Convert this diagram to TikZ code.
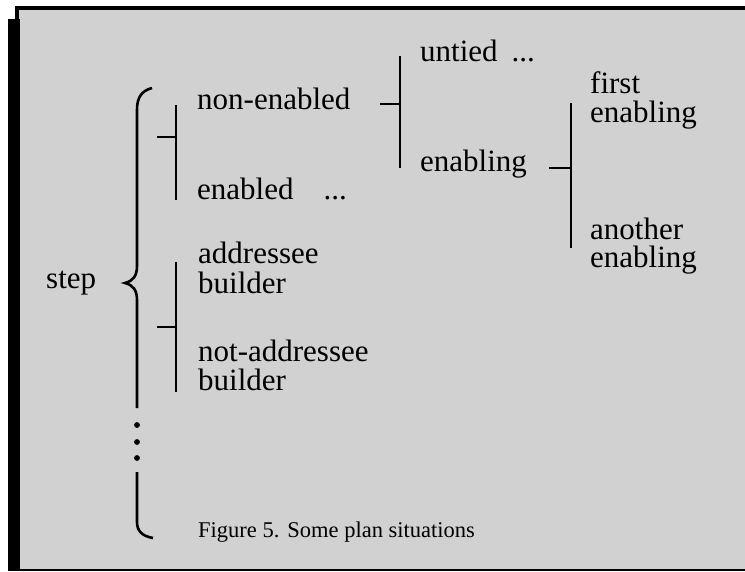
\documentclass[tikz,border=0pt]{standalone}
\usepackage{fontspec}
\setmainfont{Liberation Serif}
\begin{document}
\begin{tikzpicture}[x=1pt,y=-1pt,
  lbl/.style={anchor=base west,inner sep=0pt,font=\fontsize{31}{31}\selectfont},
  capt/.style={anchor=base west,inner sep=0pt,font=\fontsize{22.5}{22.5}\selectfont},
  br/.style={line width=2.6pt},
  halftone/.style={fill=black!18},
  ink/.style={fill=black}]
\useasboundingbox (0,0) rectangle (745,572);
\fill[white] (0,0) rectangle (745,572);
% frame
\fill[halftone] (17,9) rectangle (745,570);
\fill[ink] (15,6) rectangle (745,10);
\fill[ink] (8,19) rectangle (20,571);
\fill[ink] (15,6) rectangle (19,571);
\fill[ink] (17,568.5) rectangle (745,571);
% texts
\node[lbl] (step) at (46,289) {step};
\node[lbl] (nonen) at (197,110) {non-enabled};
\node[lbl] (enabled) at (197,200) {enabled\hspace{30pt}...};
\node[lbl] (addr1) at (198,264) {addressee};
\node[lbl] (addr2) at (198,294) {builder};
\node[lbl] (naddr1) at (198,361) {not-addressee};
\node[lbl] (naddr2) at (198,390) {builder};
\node[lbl] (untied) at (420,62) {untied\hspace{14pt}...};
\node[lbl] (enabling) at (420,172) {enabling};
\node[lbl] (first1) at (590,94) {first};
\node[lbl] (first2) at (590,123) {enabling};
\node[lbl] (anoth1) at (590,240) {another};
\node[lbl] (anoth2) at (590,268) {enabling};
\node[capt] (caption) at (198,537) {Figure 5.\hspace{8pt}Some plan situations};
% big brace
\draw[br] (152,88) .. controls (141,91) and (137,98) .. (137,110) -- (137,266)
  .. controls (137,276) and (133,281) .. (125,283)
  .. controls (133,285) and (137,290) .. (137,300) -- (137,408);
\fill (137,425) circle (2.9pt);
\fill (137,442) circle (2.9pt);
\fill (137,458) circle (2.9pt);
\draw[br] (137,472) -- (137,522) .. controls (137,531) and (142,536) .. (153,538);
% level 1 brackets
\coordinate (u1t) at (176,105); \coordinate (u1b) at (176,200);
\coordinate (u1j) at (176,137); \coordinate (u1s) at (157,137);
\draw[br] (u1t) -- (u1b); \draw[br] (u1s) -- (u1j);
\coordinate (l1t) at (176,262); \coordinate (l1b) at (176,392);
\coordinate (l1j) at (176,327); \coordinate (l1s) at (157,327);
\draw[br] (l1t) -- (l1b); \draw[br] (l1s) -- (l1j);
% level 2 bracket
\coordinate (l2t) at (400,56); \coordinate (l2b) at (400,168);
\coordinate (l2j) at (400,104); \coordinate (l2s) at (380,104);
\draw[br] (l2t) -- (l2b); \draw[br] (l2s) -- (l2j);
% level 3 bracket
\coordinate (l3t) at (571,103); \coordinate (l3b) at (571,248);
\coordinate (l3j) at (571,168); \coordinate (l3s) at (549,168);
\draw[br] (l3t) -- (l3b); \draw[br] (l3s) -- (l3j);
\end{tikzpicture}
\end{document}
